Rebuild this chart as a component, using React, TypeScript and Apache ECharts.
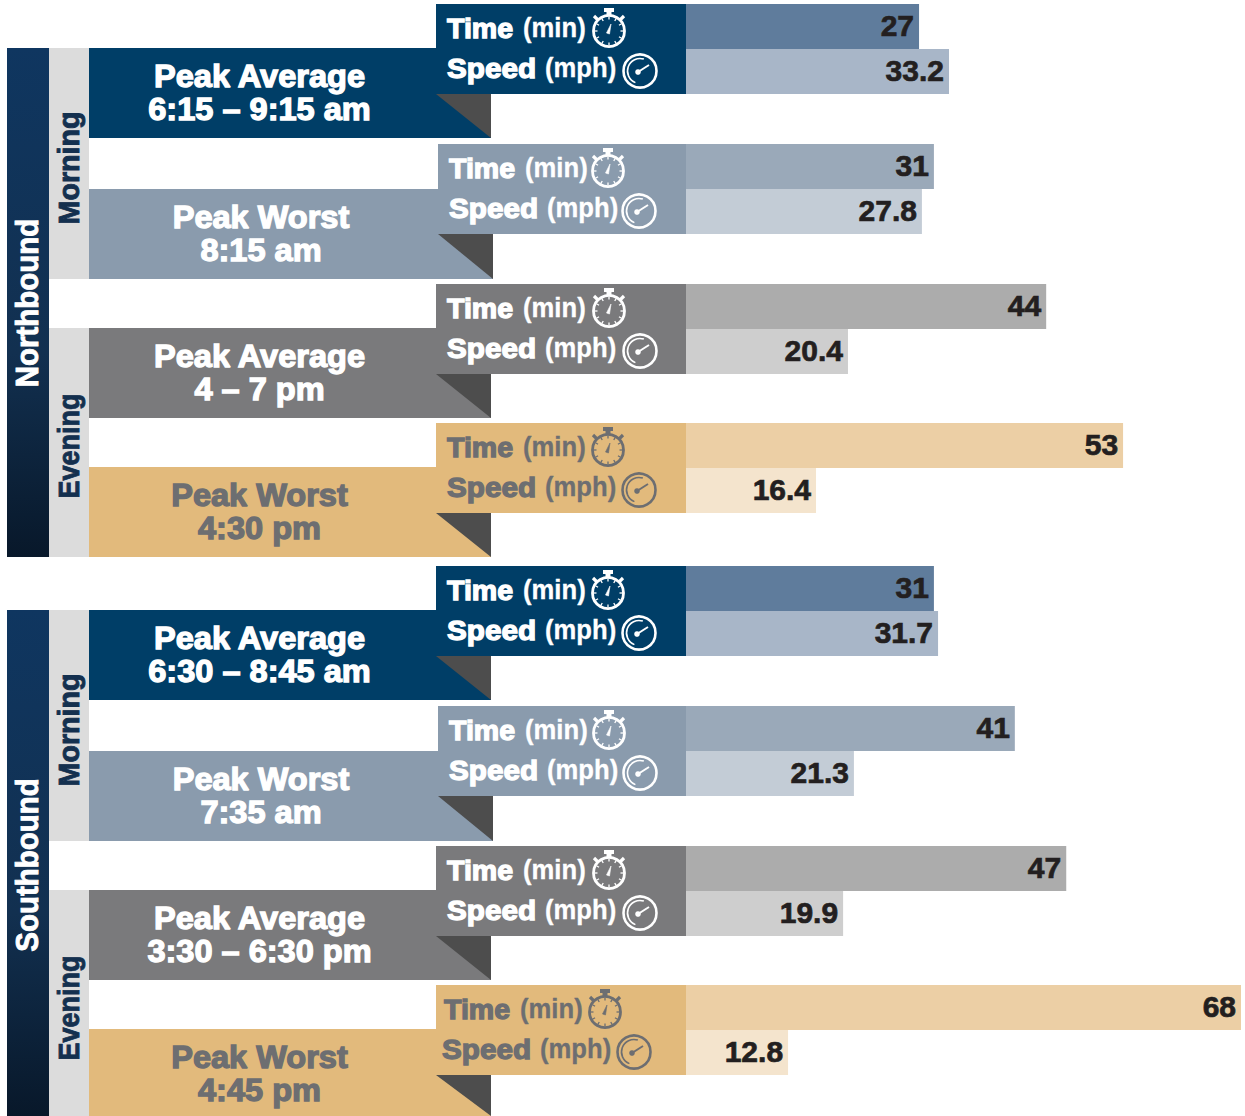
import React, { useEffect, useRef } from "react";
import * as echarts from "echarts";

const peakNames = ["Peak Average", "Peak Worst", "Peak Average", "Peak Worst", "Peak Average", "Peak Worst", "Peak Average", "Peak Worst"];
const peakTimes = ["6:15 – 9:15 am", "8:15 am", "4 – 7 pm", "4:30 pm", "6:30 – 8:45 am", "7:35 am", "3:30 – 6:30 pm", "4:45 pm"];
const timeMinutes = [27, 31, 44, 53, 31, 41, 47, 68];
const speedMph = [33.2, 27.8, 20.4, 16.4, 31.7, 21.3, 19.9, 12.8];

// The source graphic's bars are hand-placed, so each row carries its own scale.
const timeAxisMax = [64.3, 69.4, 67.8, 67.3, 69.4, 69.2, 68.6, 68];
const speedAxisMax = [70.06, 65.4, 69.9, 70, 69.8, 70.4, 70.3, 69.6];

const palette = [
  { head: "#003E67", time: "#5F7C9C", speed: "#A8B6C8", text: "#FFFFFF" },
  { head: "#8A9BAD", time: "#9AA9B9", speed: "#C3CCD6", text: "#FFFFFF" },
  { head: "#7A7A7C", time: "#ACACAC", speed: "#CECECE", text: "#FFFFFF" },
  { head: "#E2BA7C", time: "#ECCFA5", speed: "#F4E4CD", text: "#6D6E71" },
];

const layout = [
  { top: 4, main: 48, end: 138, left: 436, cx: 259.5, tx: 447, sx: 447, wx: 609, gx: 640 },
  { top: 144, main: 189, end: 279, left: 438, cx: 261, tx: 449, sx: 449, wx: 608, gx: 639 },
  { top: 284, main: 328, end: 418, left: 436, cx: 259.5, tx: 447, sx: 447, wx: 609, gx: 640 },
  { top: 423, main: 467, end: 557, left: 436, cx: 259.5, tx: 447, sx: 447, wx: 608, gx: 639 },
  { top: 566, main: 610, end: 700, left: 436, cx: 259.5, tx: 447, sx: 447, wx: 608, gx: 639 },
  { top: 706, main: 751, end: 841, left: 438, cx: 261, tx: 449, sx: 449, wx: 609, gx: 640 },
  { top: 846, main: 890, end: 980, left: 436, cx: 259.5, tx: 447, sx: 447, wx: 609, gx: 640 },
  { top: 985, main: 1029, end: 1119, left: 436, cx: 259.5, tx: 444, sx: 442, wx: 605, gx: 634 },
];

const sections = [
  { name: "Northbound", top: 48, bottom: 557, cy: 303, groups: [
    { name: "Morning", top: 48, bottom: 279, cy: 168 },
    { name: "Evening", top: 328, bottom: 557, cy: 446 },
  ] },
  { name: "Southbound", top: 610, bottom: 1116, cy: 865, groups: [
    { name: "Morning", top: 610, bottom: 841, cy: 730 },
    { name: "Evening", top: 890, bottom: 1116, cy: 1008 },
  ] },
];

const BAR_LEFT = 686;
const BAR_SPAN = 555;
const ROW = 45;
const FONT = '"Liberation Sans", Arial, sans-serif';

function heavy(text: string, x: number, y: number, size: number, fill: string, sx: number, align = "center", stroke = 1.3) {
  return {
    type: "text", x, y, scaleX: sx, silent: true,
    style: {
      text, fill, fontFamily: FONT, fontWeight: "bold", fontSize: size,
      textAlign: align, textVerticalAlign: "middle",
      stroke: fill, lineWidth: stroke,
    },
  };
}

function stopwatch(cx: number, cy: number, c: string) {
  const ticks: any[] = [];
  for (let i = 0; i < 12; i++) {
    const a = (i * Math.PI) / 6;
    ticks.push({
      type: "line",
      shape: { x1: cx + 11.5 * Math.sin(a), y1: cy - 11.5 * Math.cos(a), x2: cx + 14.5 * Math.sin(a), y2: cy - 14.5 * Math.cos(a) },
      style: { stroke: c, lineWidth: 1.3 },
    });
  }
  return {
    type: "group", silent: true,
    children: [
      { type: "circle", shape: { cx, cy, r: 15.5 }, style: { fill: "none", stroke: c, lineWidth: 2.8 } },
      { type: "rect", shape: { x: cx - 5, y: cy - 23, width: 10, height: 4 }, style: { fill: c } },
      { type: "rect", shape: { x: cx - 2.5, y: cy - 20, width: 5, height: 5 }, style: { fill: c } },
      { type: "line", shape: { x1: cx - 15, y1: cy - 15, x2: cx - 11, y2: cy - 11 }, style: { stroke: c, lineWidth: 3.2 } },
      { type: "line", shape: { x1: cx + 15, y1: cy - 15, x2: cx + 11, y2: cy - 11 }, style: { stroke: c, lineWidth: 3.2 } },
      { type: "polygon", shape: { points: [[cx - 2.5, cy + 2], [cx + 0.5, cy + 3], [cx + 2, cy - 7]] }, style: { fill: c, stroke: c, lineWidth: 0.6 } },
      ...ticks,
    ],
  };
}

function gauge(cx: number, cy: number, c: string) {
  return {
    type: "group", silent: true,
    children: [
      { type: "circle", shape: { cx, cy, r: 16.5 }, style: { fill: "none", stroke: c, lineWidth: 2.6 } },
      { type: "arc", shape: { cx, cy, r: 12.5, startAngle: Math.PI * 0.62, endAngle: Math.PI * 1.6 }, style: { stroke: c, fill: "none", lineWidth: 1.6 } },
      { type: "line", shape: { x1: cx - 2, y1: cy + 1, x2: cx + 9, y2: cy - 6 }, style: { stroke: c, lineWidth: 2 } },
      { type: "circle", shape: { cx: cx - 2, cy: cy + 1, r: 2.8 }, style: { fill: c } },
    ],
  };
}

function buildGraphics() {
  const out: any[] = [];
  sections.forEach((s) => {
    out.push({
      type: "rect", silent: true,
      shape: { x: 7, y: s.top, width: 42, height: s.bottom - s.top },
      style: { fill: new echarts.graphic.LinearGradient(0, 0, 0, 1, [
        { offset: 0, color: "#0F3660" }, { offset: 0.6, color: "#123050" }, { offset: 1, color: "#08182A" },
      ]) },
    });
    out.push({
      type: "text", x: 27, y: s.cy, rotation: Math.PI / 2, scaleX: 0.95, silent: true,
      style: { text: s.name, fill: "#FFFFFF", stroke: "#FFFFFF", lineWidth: 0.9, fontFamily: FONT, fontWeight: "bold", fontSize: 31, textAlign: "center", textVerticalAlign: "middle" },
    });
    s.groups.forEach((g) => {
      out.push({ type: "rect", silent: true, shape: { x: 49, y: g.top, width: 40, height: g.bottom - g.top }, style: { fill: "#DCDCDC" } });
      out.push({
        type: "text", x: 68, y: g.cy, rotation: Math.PI / 2, scaleX: g.name === "Evening" ? 0.9 : 0.955, silent: true,
        style: { text: g.name, fill: "#14304F", stroke: "#14304F", lineWidth: 0.9, fontFamily: FONT, fontWeight: "bold", fontSize: 30, textAlign: "center", textVerticalAlign: "middle" },
      });
    });
  });
  layout.forEach((l, i) => {
    const p = palette[i % 4];
    const bottom = Math.min(l.end, 1116);
    out.push({ type: "rect", silent: true, shape: { x: 89, y: l.main, width: l.left + 55 - 89, height: bottom - l.main }, style: { fill: p.head } });
    out.push({ type: "rect", silent: true, shape: { x: l.left, y: l.top, width: BAR_LEFT - l.left, height: 90 }, style: { fill: p.head } });
    out.push({
      type: "polygon", silent: true,
      shape: { points: [[l.left, l.top + 90], [l.left + 55, l.top + 90], [l.left + 55, bottom]] },
      style: { fill: "#4D4D4D" },
    });
    out.push(heavy(peakNames[i], l.cx, l.main + 28, 31, p.text, 1.05));
    out.push(heavy(peakTimes[i], l.cx, l.main + 61, 31, p.text, 1.05));
    out.push(heavy("Time", l.tx, l.top + 24, 28, p.text, 1.02, "left"));
    out.push(heavy("(min)", l.tx + 76, l.top + 24, 27, p.text, 0.95, "left", 0.3));
    out.push(heavy("Speed", l.sx, l.top + 64, 28, p.text, 1.06, "left"));
    out.push(heavy("(mph)", l.sx + 98, l.top + 64, 27, p.text, 0.95, "left", 0.3));
    out.push(stopwatch(l.wx, l.top + 27, p.text));
    out.push(gauge(l.gx, l.top + 67, p.text));
  });
  return out;
}

function buildOption() {
  const grid: any[] = [];
  const xAxis: any[] = [];
  const yAxis: any[] = [];
  const series: any[] = [];
  layout.forEach((l, i) => {
    const p = palette[i % 4];
    [
      { value: timeMinutes[i], max: timeAxisMax[i], top: l.top, color: p.time, name: "Time (min)" },
      { value: speedMph[i], max: speedAxisMax[i], top: l.top + ROW, color: p.speed, name: "Speed (mph)" },
    ].forEach((b) => {
      const idx = grid.length;
      grid.push({ left: BAR_LEFT, top: b.top, width: BAR_SPAN, height: ROW });
      xAxis.push({ type: "value", gridIndex: idx, min: 0, max: b.max, show: false });
      yAxis.push({ type: "category", gridIndex: idx, data: [b.name], show: false });
      series.push({
        type: "bar", xAxisIndex: idx, yAxisIndex: idx, data: [b.value],
        barWidth: "100%", silent: true,
        itemStyle: { color: b.color },
        label: {
          show: true, position: "insideRight", distance: 5, offset: [0, -1], color: "#231F20",
          fontFamily: FONT, fontWeight: "bold", fontSize: 30,
          textBorderColor: "#231F20", textBorderWidth: 0.7,
        },
      });
    });
  });
  return { animation: false, backgroundColor: "#FFFFFF", grid, xAxis, yAxis, series, graphic: buildGraphics() };
}

export default function App() {
  const ref = useRef<HTMLDivElement>(null);
  useEffect(() => {
    const chart = echarts.init(ref.current!, undefined, { renderer: "svg" });
    chart.setOption(buildOption() as any);
    return () => chart.dispose();
  }, []);
  return <div ref={ref} style={{ position: "absolute", left: 0, top: 0, width: 1245, height: 1116 }} />;
}
